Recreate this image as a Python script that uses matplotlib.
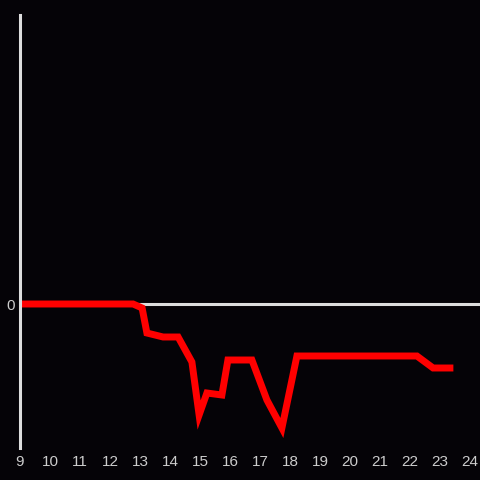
import matplotlib
matplotlib.use("Agg")
import matplotlib.pyplot as plt

# hours of the day and the value at each point (0 = baseline)
hours = [9.0, 12.77, 13.07, 13.23, 13.77, 14.27, 14.73, 14.97, 15.23, 15.73,
         15.93, 16.73, 17.23, 17.73, 18.23, 22.23, 22.77, 23.33]
values = [0, 0, -0.04, -0.29, -0.33, -0.33, -0.58, -1.11, -0.89, -0.91,
          -0.56, -0.56, -0.96, -1.24, -0.52, -0.52, -0.64, -0.64]
x_ticks = list(range(9, 25))

bg = '#050307'
fg = '#dddddd'

plt.rcParams['font.family'] = ['Liberation Sans', 'DejaVu Sans']

fig = plt.figure(figsize=(4.8, 4.8), dpi=100, facecolor=bg)
ax = fig.add_axes([20 / 480, 32 / 480, 460 / 480, 433 / 480])
ax.set_facecolor(bg)

ax.axhline(0, color=fg, linewidth=2.2, zorder=1)
ax.plot(hours, values, color='#ff0000', linewidth=5, solid_joinstyle='miter', zorder=2)

ax.set_xlim(9, 24.333)
ax.set_ylim(-1.44, 2.89)
ax.set_xticks(x_ticks)
ax.set_yticks([0])
ax.tick_params(colors='#cccccc', length=0, labelsize=11, pad=5)
ax.tick_params(axis='y', pad=4)

for side in ('top', 'right', 'bottom'):
    ax.spines[side].set_visible(False)
ax.spines['left'].set_color(fg)
ax.spines['left'].set_linewidth(2.2)

fig.savefig('out.png', dpi=100, facecolor=bg)
